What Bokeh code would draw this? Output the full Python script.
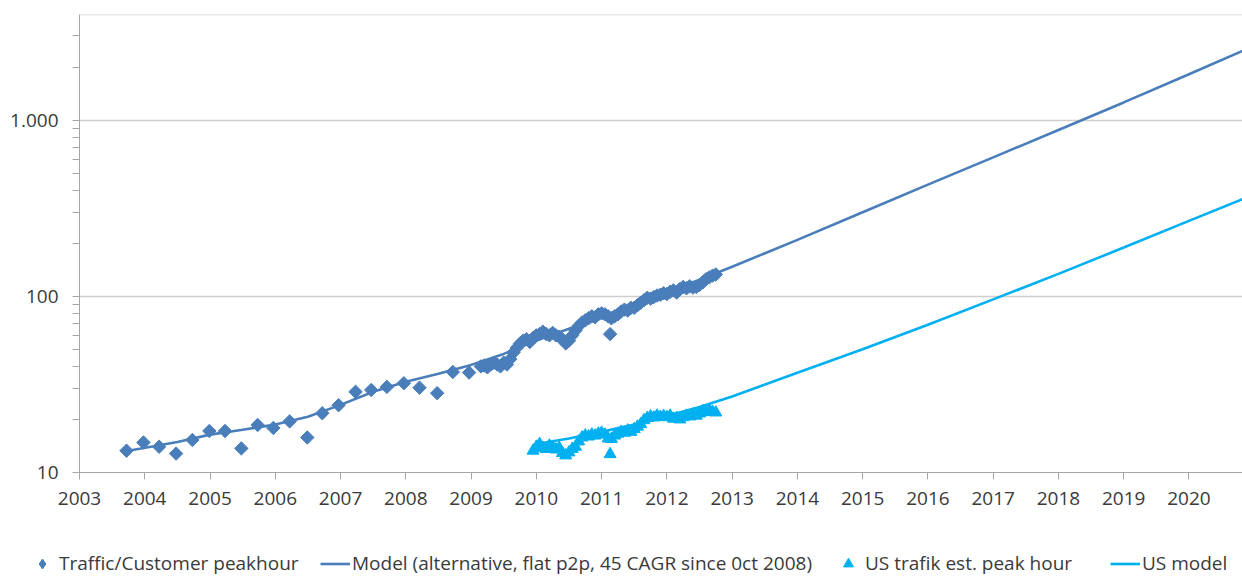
import numpy as np
from bokeh.plotting import figure
from bokeh.layouts import column
from bokeh.models import FixedTicker, CustomJSTickFormatter, Legend, LegendItem, Range1d
from bokeh.embed import file_html
from bokeh.resources import INLINE

# ---------------- data ----------------
traffic_year = [2003.72, 2003.98, 2004.22, 2004.48, 2004.73, 2004.99, 2005.23, 2005.48,
                2005.73, 2005.97, 2006.22, 2006.49, 2006.72, 2006.97, 2007.23, 2007.47,
                2007.71, 2007.97, 2008.21, 2008.48, 2008.72, 2008.97,
                2009.15, 2009.20, 2009.25, 2009.30, 2009.35, 2009.40, 2009.45, 2009.50,
                2009.55, 2009.60, 2009.65, 2009.70, 2009.75, 2009.80, 2009.85, 2009.90,
                2009.95, 2010.00, 2010.05, 2010.10, 2010.15, 2010.20, 2010.25, 2010.30,
                2010.35, 2010.40, 2010.45, 2010.50, 2010.55, 2010.60, 2010.65, 2010.70,
                2010.75, 2010.80, 2010.85, 2010.90, 2010.95, 2011.00, 2011.05, 2011.10,
                2011.13, 2011.15, 2011.20, 2011.25, 2011.30, 2011.35, 2011.40, 2011.45,
                2011.50, 2011.55, 2011.60, 2011.65, 2011.70, 2011.75, 2011.80, 2011.85,
                2011.90, 2011.95, 2012.00, 2012.05, 2012.10, 2012.15, 2012.20, 2012.25,
                2012.30, 2012.35, 2012.40, 2012.45, 2012.50, 2012.55, 2012.60, 2012.65,
                2012.70, 2012.75]
traffic_value = [13.3, 14.8, 14.0, 12.8, 15.3, 17.2, 17.2, 13.7,
                 18.6, 17.9, 19.5, 15.8, 21.7, 24.1, 28.7, 29.4,
                 30.6, 32.1, 30.3, 28.2, 37.2, 36.9,
                 40, 40.5, 39.5, 41, 42, 41, 40, 42,
                 41, 44, 48, 51, 54, 56, 57, 55,
                 58, 60, 61, 63, 61, 60, 62, 60,
                 59, 57, 54, 56, 60, 64, 68, 71,
                 73, 75, 77, 76, 79, 80, 79, 77,
                 61, 75, 77, 79, 82, 84, 83, 86,
                 86, 89, 92, 95, 98, 97, 99, 101,
                 102, 104, 103, 106, 108, 105, 110, 113,
                 111, 114, 112, 113, 116, 120, 125, 128,
                 131, 133]

model_year = [2003.75, 2004.5, 2005.0, 2005.5, 2006.0, 2006.5, 2007.0, 2007.5, 2008.0,
              2008.5, 2009.0, 2009.5, 2010.0, 2010.5, 2011.0, 2011.5, 2012.0, 2012.5,
              2013.0, 2014.0, 2015.0, 2016.0, 2017.0, 2018.0, 2019.0, 2020.0, 2021.0]
model_value = [13.3, 14.9, 16.4, 17.5, 18.7, 20.7, 24.2, 28.7, 32.7,
               36.3, 40.8, 47.1, 56, 65.5, 76.6, 90, 105, 124,
               147, 209, 300, 430, 614, 879, 1259, 1820, 2636]

us_year = [2009.95, 2010.00, 2010.05, 2010.10, 2010.15, 2010.20, 2010.25, 2010.30,
           2010.35, 2010.40, 2010.45, 2010.50, 2010.55, 2010.60, 2010.65, 2010.70,
           2010.75, 2010.80, 2010.85, 2010.90, 2010.95, 2011.00, 2011.05, 2011.10,
           2011.13, 2011.15, 2011.20, 2011.25, 2011.30, 2011.35, 2011.40, 2011.45,
           2011.50, 2011.55, 2011.60, 2011.65, 2011.70, 2011.75, 2011.80, 2011.85,
           2011.90, 2011.95, 2012.00, 2012.05, 2012.10, 2012.15, 2012.20, 2012.25,
           2012.30, 2012.35, 2012.40, 2012.45, 2012.50, 2012.55, 2012.60, 2012.65,
           2012.70, 2012.75]
us_value = [13.3, 14.0, 14.5, 13.8, 13.6, 14.2, 13.9, 13.5,
            13.8, 12.9, 12.5, 13.0, 13.6, 14.0, 15.0, 15.8,
            16.2, 16.0, 16.4, 16.2, 16.6, 16.8, 16.4, 15.6,
            12.7, 15.5, 16.2, 16.6, 17.0, 16.8, 17.3, 17.0,
            17.6, 18.2, 18.8, 19.8, 20.4, 20.8, 20.5, 21.0,
            20.7, 20.9, 20.6, 21.0, 20.2, 20.4, 20.0, 20.6,
            21.0, 20.8, 21.3, 21.0, 21.6, 22.3, 22.0, 22.6,
            22.1, 21.9]

us_model_year = [2010.0, 2010.5, 2011.0, 2011.5, 2012.0, 2012.5, 2013.0, 2014.0,
                 2015.0, 2016.0, 2017.0, 2018.0, 2019.0, 2020.0, 2021.0]
us_model_value = [14.5, 15.6, 17.0, 18.7, 20.9, 23.5, 27.0, 36.8,
                  50, 69, 96, 134, 189, 268, 378]

x_ticks = list(range(2003, 2021))
y_ticks = [10, 100, 1000]
y_minor = [20, 30, 40, 50, 60, 70, 80, 90, 200, 300, 400, 500, 600, 700, 800, 900, 2000, 3000]

series_names = ["Traffic/Customer peakhour",
                "Model (alternative, flat p2p, 45 CAGR since 0ct 2008)",
                "US trafik est. peak hour",
                "US model"]

# ---------------- style ----------------
DARK = "#4A7EBB"
LIGHT = "#00B0F0"
TXT = "#3a3a3a"
FONT = "Open Sans"
X_START, X_END = 2003, 2020.82
Y_START, Y_END = 10, 3972
W = 1242
H_MAIN, H_LEG = 550, 26

p = figure(width=W, height=H_MAIN, output_backend="svg", toolbar_location=None,
           y_axis_type="log",
           x_range=Range1d(X_START, X_END), y_range=Range1d(Y_START, Y_END),
           min_border_left=79, min_border_right=0, min_border_top=14,
           min_border_bottom=H_MAIN - 472)
p.outline_line_color = None
p.background_fill_color = "white"
p.border_fill_color = "white"

DIAMOND = dict(marker="square", angle=np.pi / 4, size=9.5, fill_color=DARK, line_color=DARK)
TRI = dict(marker="triangle", size=12, fill_color=LIGHT, line_color=LIGHT)
MLINE = dict(line_color=DARK, line_width=2.6)
ULINE = dict(line_color=LIGHT, line_width=2.6)

p.scatter(traffic_year, traffic_value, **DIAMOND)
p.scatter(us_year, us_value, **TRI)
p.line(model_year, model_value, **MLINE)
p.line(us_model_year, us_model_value, **ULINE)

# axes
xa = p.xaxis[0]
xa.ticker = FixedTicker(ticks=x_ticks)
xa.formatter = CustomJSTickFormatter(code="return Math.round(tick).toString();")
xa.axis_line_color = "#a6a6a6"
xa.major_tick_line_color = "#a6a6a6"
xa.major_tick_out = 7
xa.major_tick_in = 0
xa.minor_tick_line_color = None
xa.major_label_text_font = FONT
xa.major_label_text_font_size = "19px"
xa.major_label_text_color = TXT
xa.major_label_standoff = 12

ya = p.yaxis[0]
ya.ticker = FixedTicker(ticks=y_ticks, minor_ticks=y_minor)
ya.formatter = CustomJSTickFormatter(
    code=r"const s = Math.round(tick).toString(); return s.replace(/\B(?=(\d{3})+(?!\d))/g, '.');")
ya.axis_line_color = "#a6a6a6"
ya.major_tick_line_color = "#a6a6a6"
ya.minor_tick_line_color = "#a6a6a6"
ya.major_tick_out = 7
ya.major_tick_in = 0
ya.minor_tick_out = 7
ya.minor_tick_in = 0
ya.major_label_text_font = FONT
ya.major_label_text_font_size = "19px"
ya.major_label_text_color = TXT
ya.major_label_standoff = 14

p.xgrid.visible = False
p.ygrid.ticker = FixedTicker(ticks=[100, 1000, 3960])
p.ygrid.grid_line_color = "#cfcfcf"
p.ygrid.grid_line_width = 1.3

# legend strip: a second figure whose frame holds only the legend keys
lg = figure(width=W, height=H_LEG, output_backend="svg", toolbar_location=None,
            x_range=Range1d(0, 1), y_range=Range1d(0, 1),
            x_axis_location=None, y_axis_location=None, min_border=0)
lg.outline_line_color = None
lg.grid.visible = False
lg.background_fill_color = "white"
lg.border_fill_color = "white"
if "frame_align" in p.properties():
    p.frame_align = False
    lg.frame_align = False
# same series, outside this strip's ranges: only their legend keys show here
k1 = lg.scatter(traffic_year, traffic_value, marker="diamond", fill_color=DARK, line_color=DARK)
k2 = lg.line(model_year, model_value, **MLINE)
k3 = lg.scatter(us_year, us_value, marker="triangle", fill_color=LIGHT, line_color=LIGHT)
k4 = lg.line(us_model_year, us_model_value, **ULINE)

legend_x = [27, 320, 833, 1110]
for name, rend, lx in zip(series_names, [k1, k2, k3, k4], legend_x):
    lg.add_layout(Legend(items=[LegendItem(label=name, renderers=[rend])],
                         location=(lx, 0),
                         glyph_width=30, glyph_height=25, label_standoff=2,
                         padding=0, margin=0, border_line_alpha=0,
                         background_fill_alpha=0,
                         label_text_font=FONT, label_text_font_size="19px",
                         label_text_color=TXT))

layout = column(p, lg, spacing=0)
open("out.html", "w").write(file_html(layout, INLINE))
